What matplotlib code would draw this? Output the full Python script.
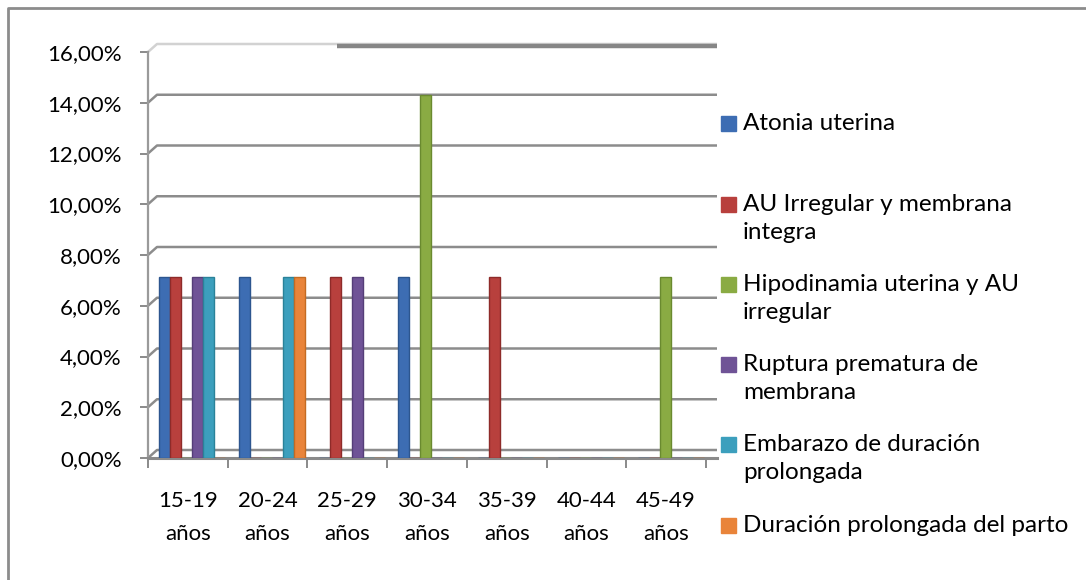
import numpy as np
import matplotlib
matplotlib.use("Agg")
import matplotlib.pyplot as plt
from matplotlib.ticker import FuncFormatter, FixedLocator
from matplotlib.patches import Rectangle
from matplotlib.lines import Line2D

plt.rcParams['font.family'] = ['Lato', 'DejaVu Sans']

# age groups (x axis)
grupos = ["15-19\naños", "20-24\naños", "25-29\naños", "30-34\naños",
          "35-39\naños", "40-44\naños", "45-49\naños"]

series = ["Atonia uterina",
          "AU Irregular y membrana\nintegra",
          "Hipodinamia uterina y AU\nirregular",
          "Ruptura prematura de\nmembrana",
          "Embarazo de duración\nprolongada",
          "Duración prolongada del parto"]

# percentages per series, one value per age group
atonia     = [7.14, 7.14, 0.00, 7.14, 0.00, 0.00, 0.00]
au_irreg   = [7.14, 0.00, 7.14, 0.00, 7.14, 0.00, 0.00]
hipodin    = [0.00, 0.00, 0.00, 14.29, 0.00, 0.00, 7.14]
ruptura    = [7.14, 0.00, 7.14, 0.00, 0.00, 0.00, 0.00]
embarazo   = [7.14, 7.14, 0.00, 0.00, 0.00, 0.00, 0.00]
dur_parto  = [0.00, 7.14, 0.00, 0.00, 0.00, 0.00, 0.00]
valores = [atonia, au_irreg, hipodin, ruptura, embarazo, dur_parto]

colores = ["#3d6db3", "#b8403d", "#8aab43", "#6f5396", "#3c9fbd", "#e9843a"]
bordes = ["#2d568f", "#8e2b29", "#6a8a2f", "#553e78", "#2a8299", "#c46b22"]

fs = 16
fs_leg = 17.5

fig = plt.figure(figsize=(10.86, 5.80), dpi=100)
W, H = 1086, 580
x0, x1, y0, y1 = 148, 717, 458, 52
ax = fig.add_axes([x0 / W, 1 - y0 / H, (x1 - x0) / W, (y0 - y1) / H])

cat_px = 79.7
ax.set_xlim(-0.5, -0.5 + (x1 - x0) / cat_px)
ax.set_ylim(0, 0.16)

x = np.arange(len(grupos))
paso = 0.138
for i, (vals, c, e) in enumerate(zip(valores, colores, bordes)):
    offs = (i - 2.5) * paso + 0.056
    ax.bar(x + offs, np.array(vals) / 100, paso, color=c, edgecolor=e,
           linewidth=1.0, zorder=3)

# back-wall gridlines (pseudo 3D: shifted up a few pixels with a short diagonal)
ticks_y = np.arange(0, 0.161, 0.02)
dy = 8 / (y0 - y1) * 0.16
dx = 9 / cat_px
xa, xb = ax.get_xlim()
for v in ticks_y:
    col = '#d2d2d2' if v > 0.159 else '#8c8c8c'
    ax.plot([xa, xa + dx, xb], [v, v + dy, v + dy], color=col, lw=1.8, zorder=1,
            clip_on=False, solid_capstyle='butt')
ax.plot([xa + (337 - x0) / cat_px, xb], [0.16 + dy * 0.7] * 2, color='#868686', lw=3.2,
        zorder=4, clip_on=False, solid_capstyle='butt')

ax.yaxis.set_major_locator(FixedLocator(ticks_y))
ax.yaxis.set_major_formatter(FuncFormatter(lambda v, p: f"{v*100:.2f}%".replace(".", ",")))

ax.set_xticks(np.arange(-0.5, 7, 1))
ax.set_xticklabels([])
ax.set_xticks(x, minor=True)
ax.set_xticklabels(grupos, minor=True, linespacing=1.77)
ax.tick_params(axis='x', which='minor', length=0, pad=24, labelsize=fs)
ax.tick_params(axis='x', which='major', length=7, color='#8a8a8a', width=1.4)
ax.tick_params(axis='y', length=6, color='#8a8a8a', width=1.4, pad=13, labelsize=fs)

for s in ['top', 'right']:
    ax.spines[s].set_visible(False)
ax.spines['left'].set_color('#9a9a9a')
ax.spines['left'].set_linewidth(1.6)
ax.spines['bottom'].set_color('#8a8a8a')
ax.spines['bottom'].set_linewidth(2.2)

# legend drawn by hand, lines spaced as in the original
legend_y = [[123.5], [204.5, 232.5], [284.5, 312.5], [364.5, 392.5], [444.5, 472.5], [525.5]]
for nombre, ys, c in zip(series, legend_y, colores):
    fig.patches.append(Rectangle((721 / W, 1 - (ys[0] + 7.5) / H), 15 / W, 15 / H,
                                 transform=fig.transFigure, color=c))
    for linea, yy in zip(nombre.split("\n"), ys):
        fig.text(743 / W, 1 - yy / H, linea, va='center', ha='left', fontsize=fs_leg)

# outer chart frame (top and left edges are the only ones visible)
fig.lines.append(Line2D([8 / W, 8 / W, 1], [0, 1 - 8 / H, 1 - 8 / H], transform=fig.transFigure,
                        color='#8c8c8c', lw=2))

fig.savefig("out.png", dpi=100)
